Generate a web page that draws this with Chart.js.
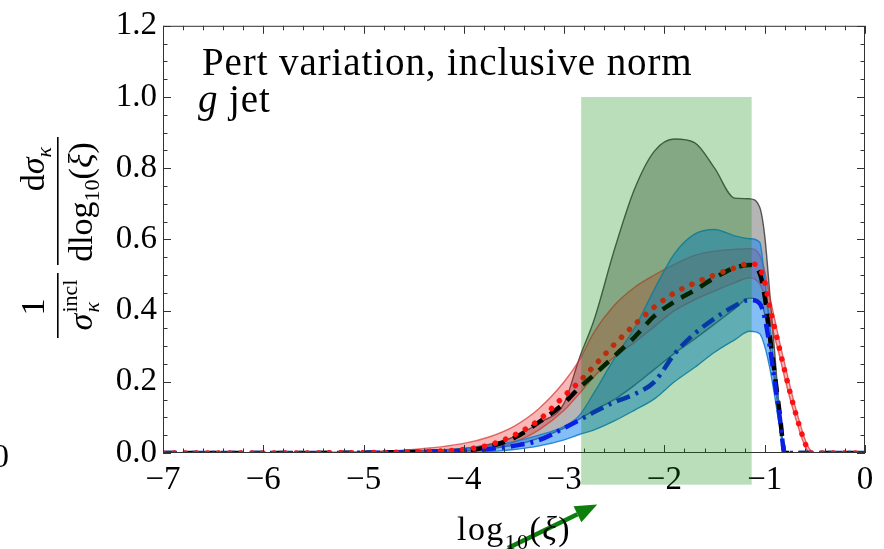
<!DOCTYPE html>
<html>
<head>
<meta charset="utf-8">
<script src="https://cdn.jsdelivr.net/npm/chart.js@4.4.1/dist/chart.umd.min.js"></script>
<style>
  html, body { margin:0; padding:0; background:#fff; }
  canvas { display:block; }
</style>
</head>
<body>
<canvas id="chart-xi" width="884" height="549"></canvas>
<script>
/*##########################################################
        g jet, pert variation (inclusive norm)
##########################################################*/

// x grid: log10(xi)
var xVals  = [-7, -6, -5, -4.5, -4, -3.75, -3.5, -3.25, -3, -2.85, -2.7, -2.5, -2.3, -2.1, -1.9, -1.7, -1.5, -1.3, -1.15, -1.05, -1.0, -0.95, -0.9, -0.85, -0.8, -0.7, -0.6, -0.55, -0.5, 0];

// gray band + black dashed central
var grayHi  = [0, 0.0005, 0.003, 0.007, 0.013, 0.024, 0.045, 0.085, 0.14, 0.265, 0.375, 0.57, 0.74, 0.848, 0.882, 0.872, 0.80, 0.716, 0.714, 0.69, 0.61, 0.45, 0.28, 0.11, 0, 0, 0, 0, 0, 0];
var grayMid = [0, 0, 0.001, 0.003, 0.006, 0.018, 0.042, 0.087, 0.14, 0.183, 0.22, 0.272, 0.325, 0.385, 0.425, 0.457, 0.492, 0.52, 0.528, 0.505, 0.44, 0.33, 0.22, 0.11, 0, 0, 0, 0, 0, 0];
var grayLo  = [0, 0, 0.001, 0.003, 0.006, 0.012, 0.022, 0.042, 0.07, 0.095, 0.12, 0.15, 0.19, 0.235, 0.28, 0.32, 0.362, 0.405, 0.435, 0.425, 0.39, 0.3, 0.2, 0.09, 0, 0, 0, 0, 0, 0];

// red band + red dotted central
var redHi   = [0, 0.0005, 0.003, 0.01, 0.027, 0.045, 0.075, 0.125, 0.2, 0.26, 0.34, 0.415, 0.465, 0.5, 0.53, 0.555, 0.567, 0.572, 0.574, 0.556, 0.51, 0.44, 0.375, 0.31, 0.25, 0.135, 0.04, 0.01, 0, 0];
var redMid  = [0, 0, 0.001, 0.003, 0.01, 0.022, 0.05, 0.093, 0.16, 0.2, 0.245, 0.305, 0.36, 0.41, 0.45, 0.477, 0.5, 0.52, 0.532, 0.518, 0.48, 0.41, 0.35, 0.29, 0.23, 0.12, 0.03, 0, 0, 0];
var redLo   = [0, 0, 0, 0.001, 0.004, 0.01, 0.03, 0.065, 0.12, 0.166, 0.215, 0.27, 0.31, 0.355, 0.4, 0.43, 0.455, 0.478, 0.492, 0.475, 0.44, 0.38, 0.325, 0.27, 0.21, 0.105, 0.02, 0, 0, 0];

// blue band + blue dash-dot central
var blueHi  = [0, 0, 0.001, 0.004, 0.012, 0.02, 0.032, 0.05, 0.075, 0.105, 0.17, 0.265, 0.35, 0.46, 0.56, 0.615, 0.628, 0.61, 0.602, 0.592, 0.49, 0.36, 0.235, 0.11, 0, 0, 0, 0, 0, 0];
var blueMid = [0, 0, 0.0005, 0.002, 0.006, 0.011, 0.02, 0.036, 0.07, 0.092, 0.115, 0.143, 0.165, 0.2, 0.278, 0.335, 0.378, 0.413, 0.43, 0.42, 0.38, 0.3, 0.2, 0.1, 0, 0, 0, 0, 0, 0];
var blueLo  = [0, 0, 0, 0.001, 0.002, 0.004, 0.01, 0.02, 0.037, 0.052, 0.065, 0.09, 0.12, 0.152, 0.2, 0.24, 0.283, 0.318, 0.342, 0.335, 0.3, 0.24, 0.16, 0.07, 0, 0, 0, 0, 0, 0];

// axis ranges / ticks
var xMin = -7, xMax = 0, xStep = 1, xMinor = 0.2;
var yMin = 0, yMax = 1.2, yStep = 0.2, yMinor = 0.05;

// shaded window and arrow, in data units
var windowX = [-2.83, -1.13];
var windowY = [-0.089, 1.0];
var arrowFrom = [-3.56, -0.267];
var arrowTo   = [-2.67, -0.145];

var serif = '"Liberation Serif", "DejaVu Serif", serif';

function pts(ys) {
  return xVals.map(function(x, i){ return {x: x, y: ys[i]}; });
}

function band(label, hi, lo, fillCol, edgeCol, ord) {
  return [
    {label: label + " hi", data: pts(hi), borderColor: edgeCol, borderWidth: 1.4,
     backgroundColor: fillCol, fill: "+1", order: ord},
    {label: label + " lo", data: pts(lo), borderColor: edgeCol, borderWidth: 1.4,
     fill: false, order: ord}
  ];
}

function central(label, ys, col, dash, cap, width, ord) {
  return {label: label, data: pts(ys), borderColor: col, borderWidth: width,
          borderDash: dash, borderCapStyle: cap, fill: false, order: ord};
}

var datasets = []
  .concat(band("gray", grayHi, grayLo, "rgba(0,0,0,0.29)", "rgba(60,60,60,0.85)", 6))
  .concat(band("red", redHi, redLo, "rgba(235,20,20,0.30)", "rgba(215,50,50,0.7)", 5))
  .concat(band("blue", blueHi, blueLo, "rgba(20,130,240,0.52)", "rgba(25,125,200,0.9)", 4))
  .concat([
    central("pert", grayMid, "#000000", [13, 9], "butt", 4.5, 3),
    central("blue", blueMid, "#0a1ee6", [14, 6, 3, 6], "butt", 4.5, 2),
    central("red",  redMid,  "#ff1010", [0.1, 11], "round", 5.5, 1)
  ]);

// draw one line of mixed-size text: parts = [text, size, dy, italic]
function drawParts(ctx, parts, x, y, align) {
  var total = 0;
  parts.forEach(function(p){
    ctx.font = (p[3] ? "italic " : "") + p[1] + "px " + serif;
    p.w = ctx.measureText(p[0]).width;
    total += p.w;
  });
  var cx = align === "center" ? x - total / 2 : x;
  parts.forEach(function(p){
    ctx.font = (p[3] ? "italic " : "") + p[1] + "px " + serif;
    ctx.fillText(p[0], cx, y + p[2]);
    cx += p.w;
  });
  return total;
}

function tick(ctx, x0, y0, x1, y1) {
  ctx.beginPath(); ctx.moveTo(x0, y0); ctx.lineTo(x1, y1); ctx.stroke();
}

var decorPlugin = {
  id: "decor",
  afterDraw: function(chart) {
    var ctx = chart.ctx, a = chart.chartArea;
    var sx = chart.scales.x, sy = chart.scales.y;
    ctx.save();

    // frame + inward ticks on all four sides
    ctx.strokeStyle = "#333";
    ctx.lineWidth = 1;
    ctx.strokeRect(a.left + 0.5, a.top + 0.5, a.right - a.left - 1, a.bottom - a.top - 1);
    var nx = Math.round((xMax - xMin) / xMinor);
    for (var i = 0; i <= nx; i++) {
      var px = Math.round(sx.getPixelForValue(xMin + i * xMinor)) + 0.5;
      var len = (i % 5 === 0) ? 8 : 4.5;
      tick(ctx, px, a.bottom, px, a.bottom - len);
      tick(ctx, px, a.top, px, a.top + len);
    }
    var ny = Math.round((yMax - yMin) / yMinor);
    for (var j = 0; j <= ny; j++) {
      var py = Math.round(sy.getPixelForValue(yMin + j * yMinor)) + 0.5;
      var ln = (j % 4 === 0) ? 8 : 4.5;
      tick(ctx, a.left, py, a.left + ln, py);
      tick(ctx, a.right, py, a.right - ln, py);
    }

    // green window
    var gx0 = sx.getPixelForValue(windowX[0]), gx1 = sx.getPixelForValue(windowX[1]);
    var gy0 = sy.getPixelForValue(windowY[1]), gy1 = sy.getPixelForValue(windowY[0]);
    ctx.fillStyle = "rgba(0,128,0,0.27)";
    ctx.fillRect(gx0, gy0, gx1 - gx0, gy1 - gy0);

    // arrow
    var ax0 = sx.getPixelForValue(arrowFrom[0]), ay0 = sy.getPixelForValue(arrowFrom[1]);
    var ax1 = sx.getPixelForValue(arrowTo[0]),   ay1 = sy.getPixelForValue(arrowTo[1]);
    var ang = Math.atan2(ay1 - ay0, ax1 - ax0), hl = 22, hw = 9;
    var bx = ax1 - hl * Math.cos(ang), by = ay1 - hl * Math.sin(ang);
    ctx.strokeStyle = "#0d7f0d"; ctx.fillStyle = "#0d7f0d";
    ctx.lineWidth = 4.5;
    tick(ctx, ax0, ay0, bx, by);
    ctx.beginPath();
    ctx.moveTo(ax1, ay1);
    ctx.lineTo(bx + hw * Math.sin(ang), by - hw * Math.cos(ang));
    ctx.lineTo(bx - hw * Math.sin(ang), by + hw * Math.cos(ang));
    ctx.closePath(); ctx.fill();

    // texts
    ctx.fillStyle = "#000";
    ctx.textBaseline = "alphabetic";
    ctx.textAlign = "left";
    ctx.letterSpacing = "0.9px";
    drawParts(ctx, [["Pert variation, inclusive norm", 39, 0, false]], a.left + 39, 75, "left");
    drawParts(ctx, [["g", 39, 0, true], [" jet", 39, 0, false]], a.left + 35, 112, "left");

    // x title
    ctx.letterSpacing = "1.4px";
    drawParts(ctx, [["log", 34, 0, false], ["10", 22, 9, false], ["(", 34, 0, false],
                    ["\u03BE", 34, 0, true], [")", 34, 0, false]], (a.left + a.right) / 2, 540, "center");
    ctx.letterSpacing = "0px";

    // cut-off label of neighbouring panel
    ctx.font = "33px " + serif;
    ctx.textAlign = "right";
    ctx.fillText("0", 9, 467);
    ctx.textAlign = "left";

    // y title, rotated
    ctx.save();
    ctx.rotate(-Math.PI / 2);
    drawParts(ctx, [["1", 34, 0, false]], -307, 44, "center");
    ctx.fillRect(-338, 57, 65, 1.6);
    // sigma_kappa^incl
    ctx.font = "italic 34px " + serif;
    var ws = ctx.measureText("\u03C3").width;
    ctx.font = "22px " + serif;
    var wi = ctx.measureText("incl").width;
    var x0 = -305 - (ws + wi + 1) / 2;
    ctx.font = "italic 34px " + serif; ctx.fillText("\u03C3", x0, 92);
    ctx.font = "italic 22px " + serif; ctx.fillText("\u03BA", x0 + ws + 1, 99);
    ctx.font = "22px " + serif;        ctx.fillText("incl", x0 + ws + 1, 77);
    // d sigma_kappa / d log10(xi)
    drawParts(ctx, [["d", 34, 0, false], ["\u03C3", 34, 0, true], ["\u03BA", 22, 7, true]], -169, 44, "center");
    ctx.fillRect(-265, 57, 128, 1.6);
    drawParts(ctx, [["dlog", 34, 0, false], ["10", 22, 7, false], ["(", 34, 0, false],
                    ["\u03BE", 34, 0, true], [")", 34, 0, false]], -202, 92, "center");
    ctx.restore();

    ctx.restore();
  }
};

function fmtX(v) { return v === 0 ? "0" : (v < 0 ? "\u2212" : "") + Math.abs(v); }
function fmtY(v) { return Number(v).toFixed(1); }

var chartXi = new Chart(document.getElementById("chart-xi"), {
  type: "line",
  data: { datasets: datasets },
  options: {
    responsive: false,
    animation: false,
    events: [],
    layout: { padding: { left: 0, right: 19, top: 22, bottom: 0 }, autoPadding: false },
    plugins: { legend: { display: false }, tooltip: { enabled: false } },
    elements: { point: { radius: 0 }, line: { cubicInterpolationMode: "monotone" } },
    scales: {
      x: {
        type: "linear", min: xMin, max: xMax,
        grid: { display: false, drawTicks: false }, border: { display: false },
        ticks: { stepSize: xStep, autoSkip: false, maxRotation: 0, padding: 8, color: "#000",
                 font: { family: serif, size: 33 }, callback: fmtX },
        afterFit: function(s) { s.height = 96; }
      },
      y: {
        type: "linear", min: yMin, max: yMax,
        grid: { display: false, drawTicks: false }, border: { display: false },
        ticks: { stepSize: yStep, padding: 6, color: "#000",
                 font: { family: serif, size: 33 }, callback: fmtY },
        afterFit: function(s) { s.width = 163; }
      }
    }
  },
  plugins: [decorPlugin]
});
</script>
</body>
</html>
